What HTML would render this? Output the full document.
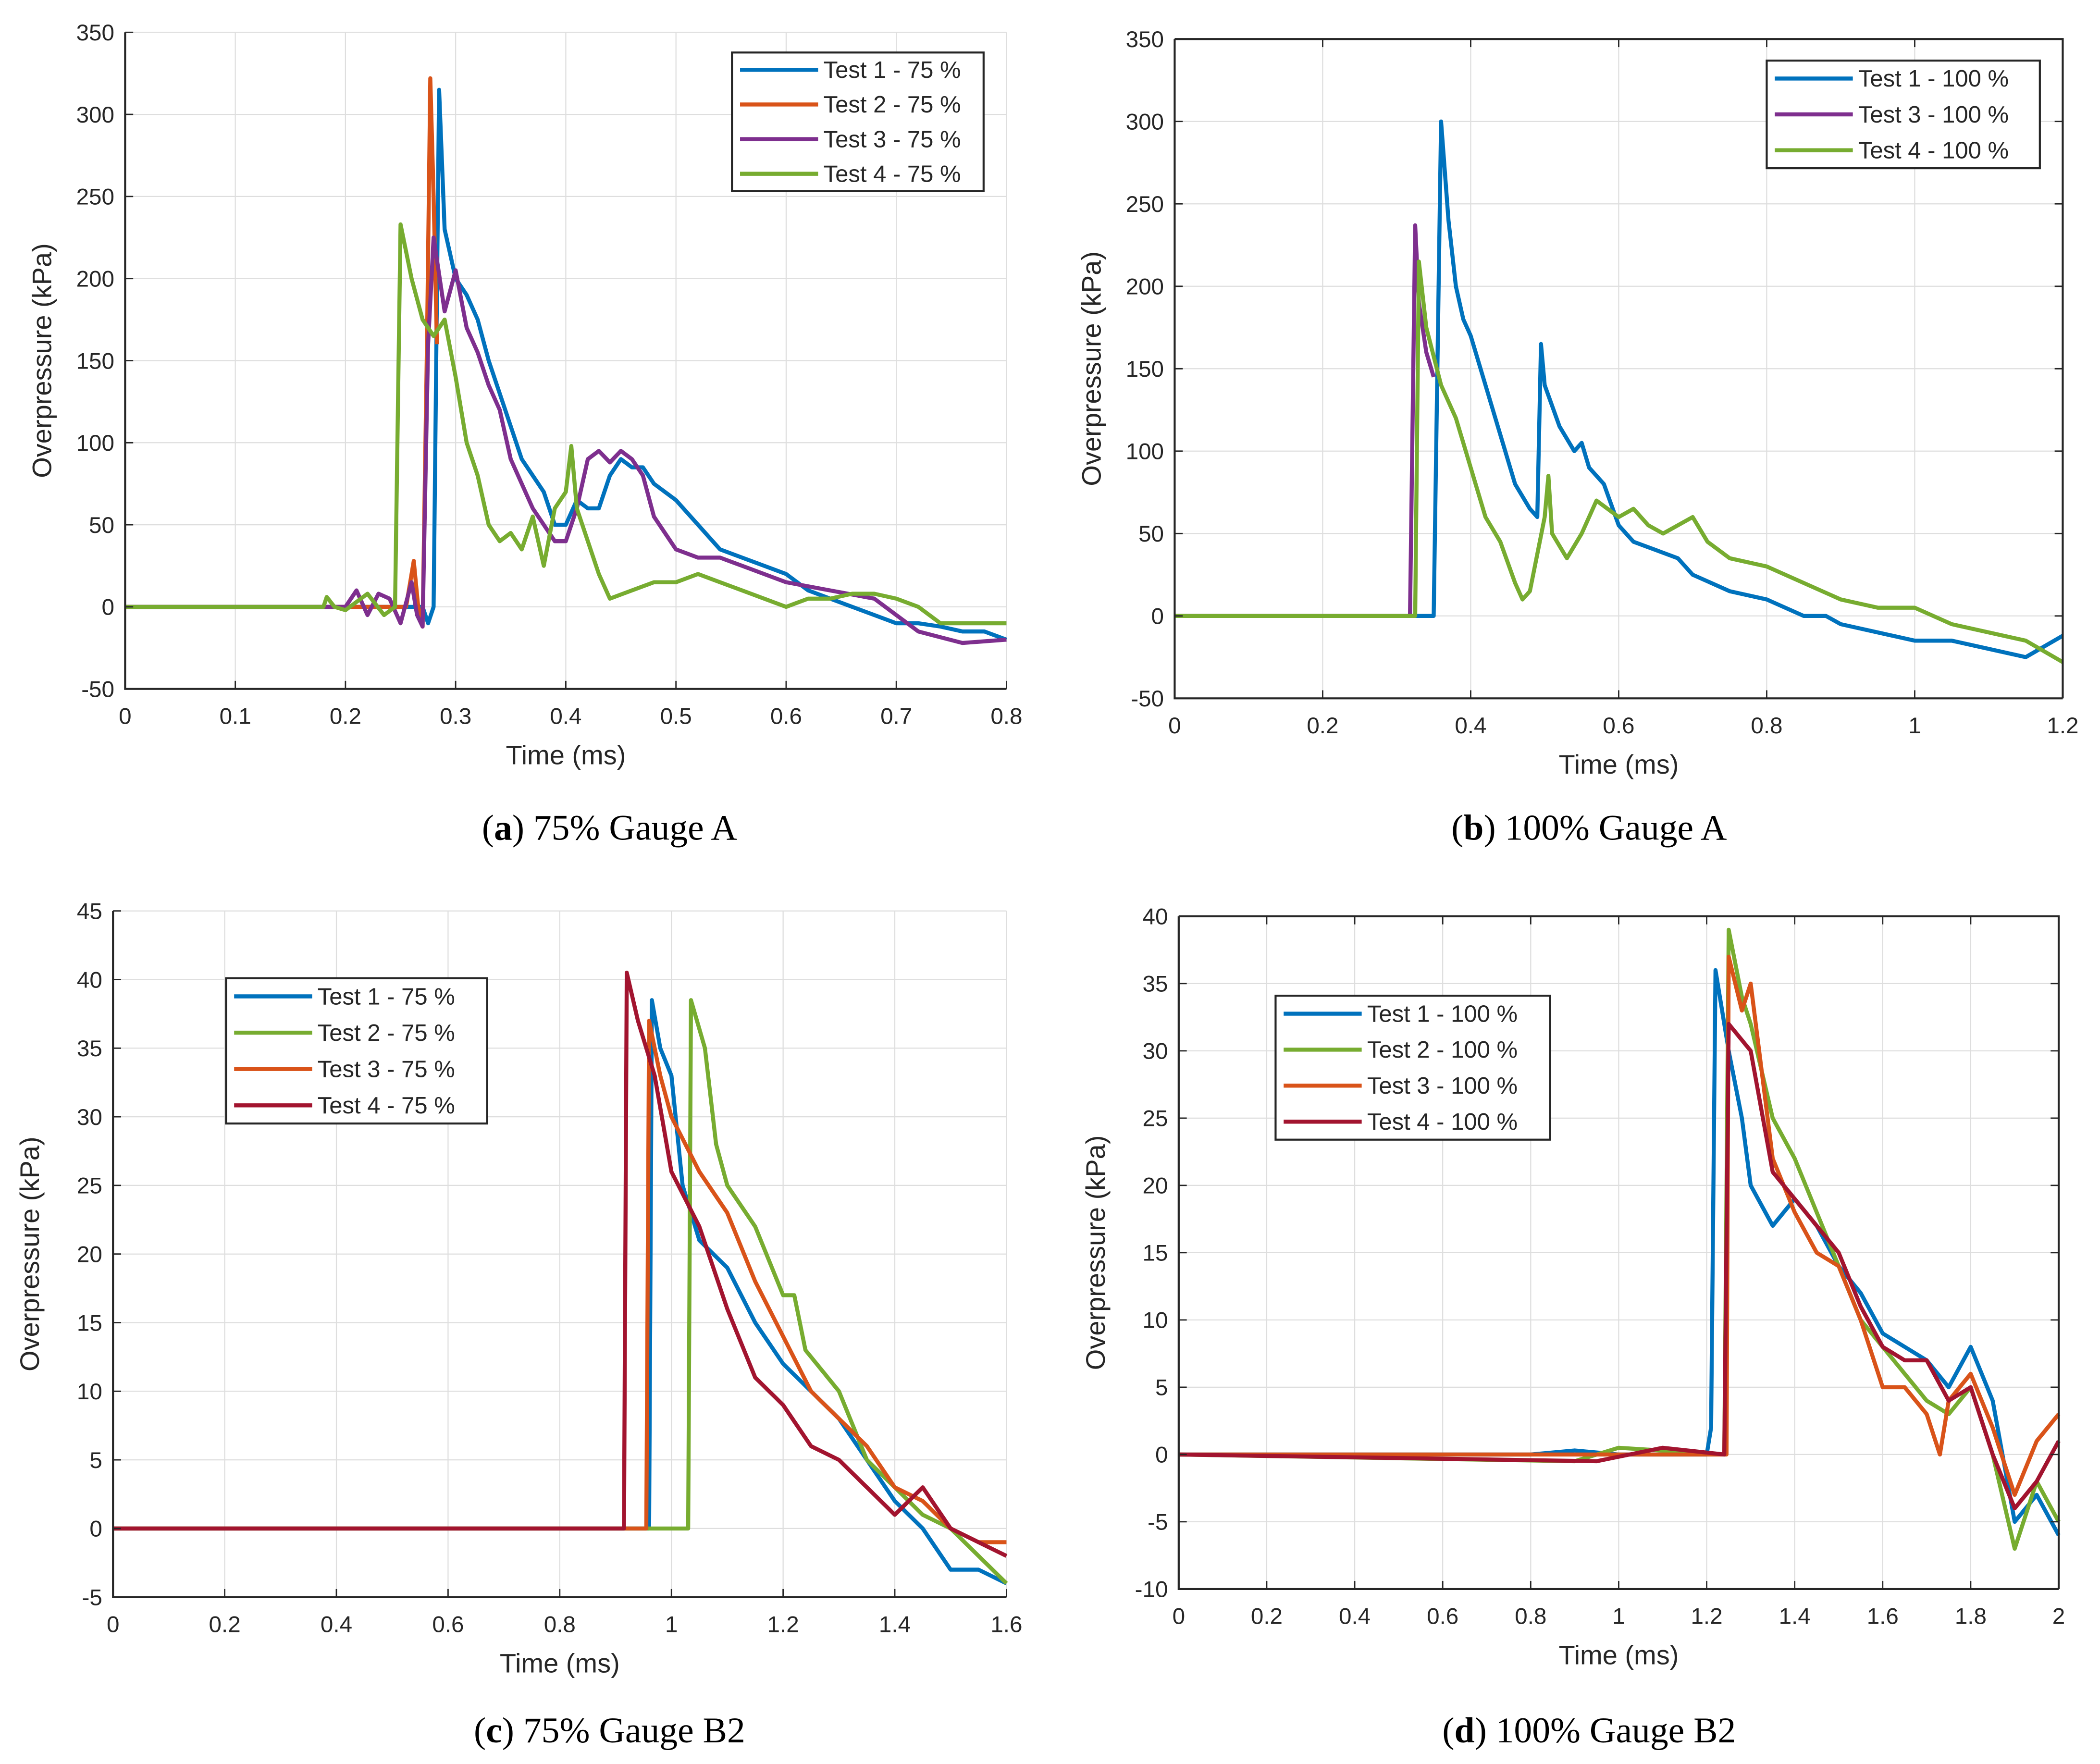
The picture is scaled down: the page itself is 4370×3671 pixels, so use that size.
<!DOCTYPE html>
<html><head><meta charset="utf-8"><style>
html,body{margin:0;padding:0;background:#fff;}
svg{display:block;}
text{font-family:"Liberation Sans",Arial,sans-serif;fill:#262626;}
.cap{font-family:"Liberation Serif","Times New Roman",serif;fill:#000;font-size:27px;}
</style></head><body>
<svg id="fig" xmlns="http://www.w3.org/2000/svg" width="4370" height="3671" viewBox="0 0 1560.7 1311">
<rect width="1560.7" height="1311" fill="#fff"/>
<text class="cap" x="453" y="624" text-anchor="middle">(<tspan font-weight="bold">a</tspan>) 75% Gauge A</text>
<text class="cap" x="1181" y="624" text-anchor="middle">(<tspan font-weight="bold">b</tspan>) 100% Gauge A</text>
<text class="cap" x="453" y="1295" text-anchor="middle">(<tspan font-weight="bold">c</tspan>) 75% Gauge B2</text>
<text class="cap" x="1181" y="1295" text-anchor="middle">(<tspan font-weight="bold">d</tspan>) 100% Gauge B2</text>
</svg>
<script>
// ---------- DATA ----------
// Panel a: 75% Gauge A
const aXTicks=[0,0.1,0.2,0.3,0.4,0.5,0.6,0.7,0.8];
const aYTicks=[-50,0,50,100,150,200,250,300,350];
const aLabels=["Test 1 - 75 %","Test 2 - 75 %","Test 3 - 75 %","Test 4 - 75 %"];
const aT1=[[0,0],[0.27,0],[0.275,-10],[0.28,0],[0.285,315],[0.29,230],[0.3,200],[0.31,190],[0.32,175],[0.33,150],[0.34,130],[0.35,110],[0.36,90],[0.37,80],[0.38,70],[0.39,50],[0.4,50],[0.41,65],[0.42,60],[0.43,60],[0.44,80],[0.45,90],[0.46,85],[0.47,85],[0.48,75],[0.5,65],[0.52,50],[0.54,35],[0.56,30],[0.58,25],[0.6,20],[0.62,10],[0.64,5],[0.66,0],[0.68,-5],[0.7,-10],[0.72,-10],[0.74,-12],[0.76,-15],[0.78,-15],[0.8,-20]];
const aT2=[[0,0],[0.255,0],[0.262,28],[0.266,0],[0.27,-12],[0.274,160],[0.277,322],[0.28,250],[0.283,160]];
const aT3=[[0,0],[0.2,0],[0.21,10],[0.22,-5],[0.23,8],[0.24,5],[0.25,-10],[0.26,15],[0.265,-5],[0.27,-12],[0.275,160],[0.28,225],[0.29,180],[0.3,205],[0.31,170],[0.32,155],[0.33,135],[0.34,120],[0.35,90],[0.36,75],[0.37,60],[0.38,50],[0.39,40],[0.4,40],[0.41,60],[0.42,90],[0.43,95],[0.44,88],[0.45,95],[0.46,90],[0.47,80],[0.48,55],[0.5,35],[0.52,30],[0.54,30],[0.56,25],[0.6,15],[0.64,10],[0.68,5],[0.7,-5],[0.72,-15],[0.76,-22],[0.8,-20]];
const aT4=[[0,0],[0.18,0],[0.183,6],[0.19,0],[0.2,-2],[0.22,8],[0.235,-5],[0.245,0],[0.25,233],[0.26,200],[0.27,175],[0.28,165],[0.29,175],[0.3,140],[0.31,100],[0.32,80],[0.33,50],[0.34,40],[0.35,45],[0.36,35],[0.37,55],[0.38,25],[0.39,60],[0.4,70],[0.405,98],[0.41,60],[0.42,40],[0.43,20],[0.44,5],[0.46,10],[0.48,15],[0.5,15],[0.52,20],[0.54,15],[0.56,10],[0.58,5],[0.6,0],[0.62,5],[0.64,5],[0.66,8],[0.68,8],[0.7,5],[0.72,0],[0.74,-10],[0.76,-10],[0.8,-10]];
// Panel b: 100% Gauge A
const bXTicks=[0,0.2,0.4,0.6,0.8,1,1.2];
const bYTicks=[-50,0,50,100,150,200,250,300,350];
const bLabels=["Test 1 - 100 %","Test 3 - 100 %","Test 4 - 100 %"];
const bT1=[[0,0],[0.35,0],[0.36,300],[0.37,240],[0.38,200],[0.39,180],[0.4,170],[0.42,140],[0.44,110],[0.46,80],[0.48,65],[0.49,60],[0.495,165],[0.5,140],[0.52,115],[0.54,100],[0.55,105],[0.56,90],[0.58,80],[0.6,55],[0.62,45],[0.65,40],[0.68,35],[0.7,25],[0.75,15],[0.8,10],[0.85,0],[0.88,0],[0.9,-5],[0.95,-10],[1,-15],[1.05,-15],[1.1,-20],[1.15,-25],[1.2,-12]];
const bT3=[[0,0],[0.318,0],[0.325,237],[0.33,190],[0.34,160],[0.35,145]];
const bT4=[[0,0],[0.325,0],[0.33,215],[0.34,175],[0.36,140],[0.38,120],[0.4,90],[0.42,60],[0.44,45],[0.46,20],[0.47,10],[0.48,15],[0.5,60],[0.505,85],[0.51,50],[0.53,35],[0.55,50],[0.57,70],[0.6,60],[0.62,65],[0.64,55],[0.66,50],[0.7,60],[0.72,45],[0.75,35],[0.8,30],[0.85,20],[0.9,10],[0.95,5],[1,5],[1.05,-5],[1.1,-10],[1.15,-15],[1.2,-28]];
// Panel c: 75% Gauge B2
const cXTicks=[0,0.2,0.4,0.6,0.8,1,1.2,1.4,1.6];
const cYTicks=[-5,0,5,10,15,20,25,30,35,40,45];
const cLabels=["Test 1 - 75 %","Test 2 - 75 %","Test 3 - 75 %","Test 4 - 75 %"];
const cT1=[[0,0],[0.96,0],[0.965,38.5],[0.98,35],[1.0,33],[1.02,25],[1.05,21],[1.1,19],[1.15,15],[1.2,12],[1.25,10],[1.3,8],[1.35,5],[1.4,2],[1.45,0],[1.5,-3],[1.55,-3],[1.6,-4]];
const cT2=[[0,0],[1.03,0],[1.035,38.5],[1.06,35],[1.08,28],[1.1,25],[1.15,22],[1.2,17],[1.22,17],[1.24,13],[1.3,10],[1.35,5],[1.4,3],[1.45,1],[1.5,0],[1.55,-2],[1.6,-4]];
const cT3=[[0,0],[0.955,0],[0.96,37],[0.98,33],[1.0,30],[1.05,26],[1.1,23],[1.15,18],[1.2,14],[1.25,10],[1.3,8],[1.35,6],[1.4,3],[1.45,2],[1.5,0],[1.55,-1],[1.6,-1]];
const cT4=[[0,0],[0.915,0],[0.92,40.5],[0.94,37],[0.97,33],[1.0,26],[1.05,22],[1.1,16],[1.15,11],[1.2,9],[1.25,6],[1.3,5],[1.35,3],[1.4,1],[1.45,3],[1.5,0],[1.55,-1],[1.6,-2]];
// Panel d: 100% Gauge B2
const dXTicks=[0,0.2,0.4,0.6,0.8,1,1.2,1.4,1.6,1.8,2];
const dYTicks=[-10,-5,0,5,10,15,20,25,30,35,40];
const dLabels=["Test 1 - 100 %","Test 2 - 100 %","Test 3 - 100 %","Test 4 - 100 %"];
const dT1=[[0,0],[0.8,0],[0.9,0.3],[1,0],[1.2,0],[1.21,2],[1.22,36],[1.25,30],[1.28,25],[1.3,20],[1.35,17],[1.4,19],[1.45,17],[1.5,14],[1.55,12],[1.6,9],[1.65,8],[1.7,7],[1.75,5],[1.8,8],[1.85,4],[1.9,-5],[1.95,-3],[2,-6]];
const dT2=[[0,0],[0.9,-0.5],[1.0,0.5],[1.24,0],[1.25,39],[1.28,34],[1.3,32],[1.35,25],[1.4,22],[1.45,18],[1.5,14],[1.55,10],[1.6,8],[1.65,6],[1.7,4],[1.75,3],[1.8,5],[1.85,0],[1.9,-7],[1.95,-2],[2,-5]];
const dT3=[[0,0],[1.245,0],[1.25,37],[1.28,33],[1.3,35],[1.35,22],[1.4,18],[1.45,15],[1.5,14],[1.55,10],[1.6,5],[1.65,5],[1.7,3],[1.73,0],[1.75,4],[1.8,6],[1.85,2],[1.9,-3],[1.95,1],[2,3]];
const dT4=[[0,0],[0.95,-0.5],[1.1,0.5],[1.24,0],[1.25,32],[1.3,30],[1.35,21],[1.4,19],[1.45,17],[1.5,15],[1.55,11],[1.6,8],[1.65,7],[1.7,7],[1.75,4],[1.8,5],[1.85,0],[1.9,-4],[1.95,-2],[2,1]];

const BLUE="#0072BD",ORANGE="#D95319",PURPLE="#7E2F8E",GREEN="#77AC30",RED="#A2142F";
const NS="http://www.w3.org/2000/svg";
const fig=document.getElementById('fig');
function mk(tag,attrs,parent){const e=document.createElementNS(NS,tag);for(const k in attrs)e.setAttribute(k,attrs[k]);(parent||fig).appendChild(e);return e;}

function panel(p){
  const g=mk('g',{});
  
  
  const xs=v=>p.x0+(v-p.xt[0])/(p.xt[p.xt.length-1]-p.xt[0])*(p.x1-p.x0);
  const ys=v=>p.y1-(v-p.yt[0])/(p.yt[p.yt.length-1]-p.yt[0])*(p.y1-p.y0);
  p.xt.forEach(t=>{const l=mk('line',{x1:xs(t),x2:xs(t),y1:p.y0,y2:p.y1,stroke:'#dedede','stroke-width':0.8},g);
    });
  p.yt.forEach(t=>{const l=mk('line',{x1:p.x0,x2:p.x1,y1:ys(t),y2:ys(t),stroke:'#dedede','stroke-width':0.8},g);
    });
  p.series.forEach((s,i)=>{
    const d=s.data.map((pt,j)=>(j?'L':'M')+xs(pt[0]).toFixed(2)+' '+ys(pt[1]).toFixed(2)).join('');
    const path=mk('path',{d:d,fill:'none',stroke:s.color,'stroke-width':3,'stroke-linejoin':'round'},g);
    
    
  });
  const ax=mk('path',{d:`M${p.x0} ${p.y0}L${p.x0} ${p.y1}L${p.x1} ${p.y1}`,fill:'none',stroke:'#262626','stroke-width':1.5},g);
  
  if(p.box){const b=mk('path',{d:`M${p.x0} ${p.y0}L${p.x1} ${p.y0}L${p.x1} ${p.y1}`,fill:'none',stroke:'#262626','stroke-width':1.5},g);
    }
  p.xt.forEach(t=>{mk('line',{x1:xs(t),x2:xs(t),y1:p.y1,y2:p.y1-6,stroke:'#262626','stroke-width':1},g);
    if(p.box)mk('line',{x1:xs(t),x2:xs(t),y1:p.y0,y2:p.y0+6,stroke:'#262626','stroke-width':1},g);
    const tx=mk('text',{x:xs(t),y:p.y1+26,'text-anchor':'middle','font-size':17},g);tx.textContent=String(t);
    });
  p.yt.forEach(t=>{mk('line',{x1:p.x0,x2:p.x0+6,y1:ys(t),y2:ys(t),stroke:'#262626','stroke-width':1},g);
    if(p.box)mk('line',{x1:p.x1,x2:p.x1-6,y1:ys(t),y2:ys(t),stroke:'#262626','stroke-width':1},g);
    const tx=mk('text',{x:p.x0-8,y:ys(t)+6,'text-anchor':'end','font-size':17},g);tx.textContent=String(t);
    });
  const xl=mk('text',{x:(p.x0+p.x1)/2,y:p.y1+56,'text-anchor':'middle','font-size':20},g);xl.textContent='Time (ms)';
  
  const yx=p.x0-55,yy=(p.y0+p.y1)/2;
  const yl=mk('text',{x:yx,y:yy,'text-anchor':'middle','font-size':20,transform:`rotate(-90 ${yx} ${yy})`},g);yl.textContent='Overpressure (kPa)';
  
  const L=p.leg;const rowH=(L.y1-L.y0)/p.series.length;
  const lg=mk('g',{},g);
  
  mk('rect',{x:L.x0,y:L.y0,width:L.x1-L.x0,height:L.y1-L.y0,fill:'#fff',stroke:'#262626','stroke-width':1.5},lg);
  p.series.forEach((s,i)=>{const cy=L.y0+rowH*(i+0.5);
    const e=mk('g',{},lg);
    
    mk('line',{x1:L.x0+6,x2:L.x0+64,y1:cy,y2:cy,stroke:s.color,'stroke-width':3},e);
    const t=mk('text',{x:L.x0+68,y:cy+6,'font-size':17.5},e);t.textContent=s.label;});
}

panel({name:'chart-a',x0:93,x1:748,y0:24,y1:512,xt:aXTicks,yt:aYTicks,box:false,leg:{x0:544,x1:731,y0:39,y1:142},
  series:[{key:'test1',data:aT1,color:BLUE,label:aLabels[0]},{key:'test2',data:aT2,color:ORANGE,label:aLabels[1]},{key:'test3',data:aT3,color:PURPLE,label:aLabels[2]},{key:'test4',data:aT4,color:GREEN,label:aLabels[3]}]});
panel({name:'chart-b',x0:873,x1:1533,y0:29,y1:519,xt:bXTicks,yt:bYTicks,box:true,leg:{x0:1313,x1:1516,y0:45,y1:125},
  series:[{key:'test1',data:bT1,color:BLUE,label:bLabels[0]},{key:'test3',data:bT3,color:PURPLE,label:bLabels[1]},{key:'test4',data:bT4,color:GREEN,label:bLabels[2]}]});
panel({name:'chart-c',x0:84,x1:748,y0:677,y1:1187,xt:cXTicks,yt:cYTicks,box:false,leg:{x0:168,x1:362,y0:727,y1:835},
  series:[{key:'test1',data:cT1,color:BLUE,label:cLabels[0]},{key:'test2',data:cT2,color:GREEN,label:cLabels[1]},{key:'test3',data:cT3,color:ORANGE,label:cLabels[2]},{key:'test4',data:cT4,color:RED,label:cLabels[3]}]});
panel({name:'chart-d',x0:876,x1:1530,y0:681,y1:1181,xt:dXTicks,yt:dYTicks,box:true,leg:{x0:948,x1:1152,y0:740,y1:847},
  series:[{key:'test1',data:dT1,color:BLUE,label:dLabels[0]},{key:'test2',data:dT2,color:GREEN,label:dLabels[1]},{key:'test3',data:dT3,color:ORANGE,label:dLabels[2]},{key:'test4',data:dT4,color:RED,label:dLabels[3]}]});
</script>
</body></html>
